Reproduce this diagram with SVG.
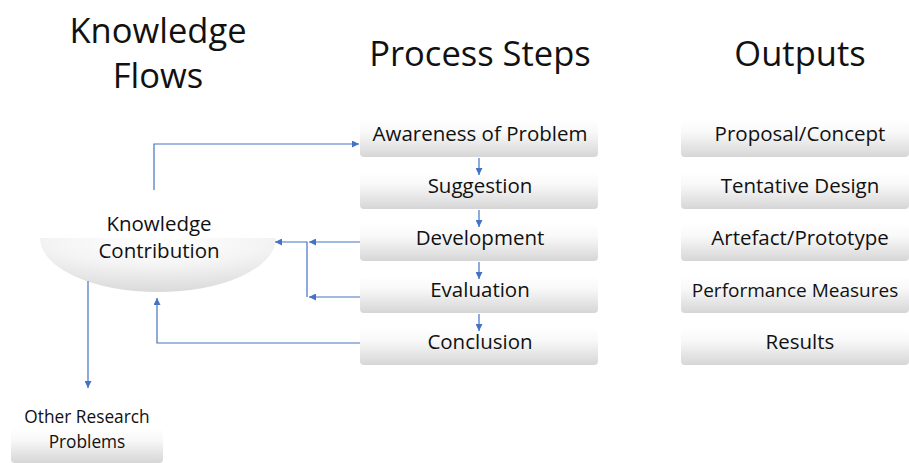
<svg xmlns="http://www.w3.org/2000/svg" width="909" height="463" viewBox="0 0 909 463">
  <defs>
    <linearGradient id="boxFill" x1="0" y1="0" x2="0" y2="1">
      <stop offset="0" stop-color="#ffffff"/>
      <stop offset="0.35" stop-color="#f8f8f8"/>
      <stop offset="1" stop-color="#d6d6d6"/>
    </linearGradient>
    <radialGradient id="bowlFill" cx="0.5" cy="0" r="1" fx="0.5" fy="0.1">
      <stop offset="0" stop-color="#ffffff"/>
      <stop offset="0.45" stop-color="#f4f4f4"/>
      <stop offset="1" stop-color="#dadada"/>
    </radialGradient>
    <marker id="arrow" viewBox="0 0 8 8" refX="8" refY="4" markerWidth="7" markerHeight="7" markerUnits="userSpaceOnUse" orient="auto">
      <path d="M0,0 L8,4 L0,8 z" fill="#4472c4"/>
    </marker>
  </defs>
  <style>
    text { font-family: "Open Sans", "Liberation Sans", sans-serif; fill: #111111; text-anchor: middle; }
    .title { font-size: 34.5px; }
    .label { font-size: 20.5px; }
    .narrow { font-size: 19px; }
    .small { font-size: 17.3px; }
    .box { fill: url(#boxFill); }
    .conn { fill: none; stroke: #4472c4; stroke-width: 1.2; marker-end: url(#arrow); }
  </style>

  <rect width="909" height="463" fill="#ffffff"/>

  <!-- column headings -->
  <g id="headings">
    <text class="title" x="158" y="43">Knowledge</text>
    <text class="title" x="158" y="88">Flows</text>
    <text class="title" x="480" y="66">Process Steps</text>
    <text class="title" x="800" y="66">Outputs</text>
  </g>

  <!-- process steps -->
  <g id="step-awareness">
    <rect class="box" x="360" y="120" width="238" height="37" rx="4"/>
    <text class="label" x="480" y="141">Awareness of Problem</text>
  </g>
  <g id="step-suggestion">
    <rect class="box" x="360" y="172" width="238" height="37" rx="4"/>
    <text class="label" x="480" y="193">Suggestion</text>
  </g>
  <g id="step-development">
    <rect class="box" x="360" y="224" width="238" height="37" rx="4"/>
    <text class="label" x="480" y="245">Development</text>
  </g>
  <g id="step-evaluation">
    <rect class="box" x="360" y="276" width="238" height="37" rx="4"/>
    <text class="label" x="480" y="297">Evaluation</text>
  </g>
  <g id="step-conclusion">
    <rect class="box" x="360" y="328" width="238" height="37" rx="4"/>
    <text class="label" x="480" y="349">Conclusion</text>
  </g>

  <!-- outputs -->
  <g id="out-proposal">
    <rect class="box" x="681" y="120" width="228" height="37" rx="4"/>
    <text class="label" x="800" y="141">Proposal/Concept</text>
  </g>
  <g id="out-design">
    <rect class="box" x="681" y="172" width="228" height="37" rx="4"/>
    <text class="label" x="800" y="193">Tentative Design</text>
  </g>
  <g id="out-artefact">
    <rect class="box" x="681" y="224" width="228" height="37" rx="4"/>
    <text class="label" x="800" y="245">Artefact/Prototype</text>
  </g>
  <g id="out-measures">
    <rect class="box" x="681" y="276" width="228" height="37" rx="4"/>
    <text class="narrow" x="795" y="297">Performance Measures</text>
  </g>
  <g id="out-results">
    <rect class="box" x="681" y="328" width="228" height="37" rx="4"/>
    <text class="label" x="800" y="349">Results</text>
  </g>

  <!-- knowledge contribution bowl -->
  <g id="knowledge-contribution">
    <path d="M40,238 A118,54 0 0 0 276,238 Z" fill="url(#bowlFill)"/>
    <text class="label" x="159" y="231">Knowledge</text>
    <text class="label" x="159" y="258">Contribution</text>
  </g>

  <!-- other research problems -->
  <g id="other-research">
    <rect class="box" x="11" y="428" width="152" height="35" rx="4"/>
    <text class="small" x="87" y="423">Other Research</text>
    <text class="small" x="87" y="448">Problems</text>
  </g>

  <!-- connectors -->
  <g id="connectors">
    <path class="conn" d="M479,158 V175"/>
    <path class="conn" d="M479,210 V227"/>
    <path class="conn" d="M479,262 V279"/>
    <path class="conn" d="M479,314 V331"/>
    <path class="conn" d="M154,190 V144 H359"/>
    <path class="conn" d="M360,242 H309"/>
    <path class="conn" d="M360,297 H309"/>
    <path class="conn" d="M307,297 V242 H275"/>
    <path class="conn" d="M360,343 H157 V298"/>
    <path class="conn" d="M88,281 V388"/>
  </g>
</svg>
